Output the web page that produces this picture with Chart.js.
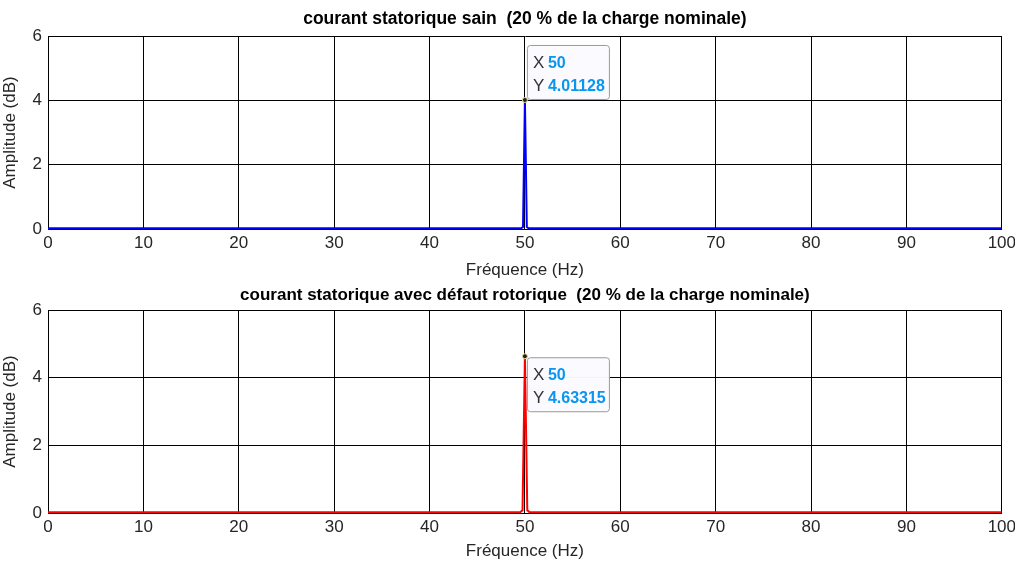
<!DOCTYPE html>
<html>
<head>
<meta charset="utf-8">
<script src="https://cdn.jsdelivr.net/npm/chart.js@4/dist/chart.umd.min.js"></script>
<style>
  html, body { margin: 0; background: #fff; overflow: hidden; }
  .box { position: absolute; left: 0; width: 1020px; height: 281px; }
</style>
</head>
<body>
<div class="box" style="top:0"><canvas id="chartSain"></canvas></div>
<div class="box" style="top:281px"><canvas id="chartDefaut"></canvas></div>
<script>
// spectre du courant statorique
var freqSain = [0, 49.6, 49.8, 50, 50.2, 50.4, 100];
var ampSain = [0.02, 0.02, 0.06, 4.01128, 0.06, 0.02, 0.02];
var freqDefaut = [0, 49.5, 49.75, 50, 50.25, 50.5, 100];
var ampDefaut = [0.02, 0.02, 0.08, 4.63315, 0.08, 0.02, 0.02];
var yTicks = [0, 2, 4, 6];

var font = 'Liberation Sans, Arial, sans-serif';

// info-bulle façon MATLAB (data tip)
var dataTip = {
	id: 'dataTip',
	afterDatasetsDraw: function (chart, args, opts) {
		var c = chart.ctx;
		var pt = chart.getDatasetMeta(0).data[opts.index];
		var x = pt.x, y = pt.y;
		var bx = x + 2, by = opts.below ? y + 1 : y - 55, bw = 82, bh = 54;
		c.save();
		c.fillStyle = 'rgba(250,250,255,0.97)';
		c.strokeStyle = '#9a9a9a';
		c.lineWidth = 1;
		c.beginPath();
		c.roundRect(bx + 0.5, by + 0.5, bw, bh, 3);
		c.fill();
		c.stroke();
		c.textBaseline = 'alphabetic';
		c.font = '17px ' + font;
		c.fillStyle = '#333';
		c.fillText('X', bx + 6, by + 23);
		c.fillText('Y', bx + 6, by + 46);
		c.font = 'bold 16px ' + font;
		c.fillStyle = '#0a96f0';
		c.fillText(opts.xText, bx + 21, by + 23);
		c.fillText(opts.yText, bx + 21, by + 46);
		c.beginPath();
		c.arc(x, y, 2.5, 0, Math.PI * 2);
		c.fillStyle = '#222';
		c.fill();
		c.strokeStyle = '#e6dc96';
		c.lineWidth = 1;
		c.stroke();
		c.restore();
	}
};

function makeChart(id, freq, amp, color, title, tip, titleSize, titlePad, xHeight) {
	var pts = freq.map(function (f, i) { return { x: f, y: amp[i] }; });
	return new Chart(document.getElementById(id), {
		type: 'line',
		data: {
			datasets: [{
				data: pts,
				borderColor: color,
				borderWidth: 2,
				pointRadius: 0,
				tension: 0,
			}],
		},
		plugins: [dataTip],
		options: {
			responsive: true,
			maintainAspectRatio: false,
			animation: false,
			layout: { padding: { left: 0, right: 0, top: 0, bottom: 0 } },
			plugins: {
				legend: { display: false },
				tooltip: { enabled: false },
				title: {
					display: true,
					text: title,
					color: '#000',
					fullSize: false,
					font: { family: font, size: titleSize, weight: 'bold', lineHeight: 1.2 },
					padding: titlePad,
				},
				dataTip: tip,
			},
			scales: {
				x: {
					type: 'linear',
					min: 0,
					max: 100,
					ticks: { stepSize: 10, color: '#262626', padding: 4, maxRotation: 0, font: { family: font, size: 17 } },
					grid: { color: '#000', lineWidth: 1, drawTicks: false },
					border: { color: '#000' },
					title: { display: true, text: 'Fréquence (Hz)', color: '#262626', padding: 0, font: { family: font, size: 17 } },
					afterFit: function (s) { s.height = xHeight; },
				},
				y: {
					min: 0,
					max: 6,
					afterBuildTicks: function (s) { s.ticks = yTicks.map(function (v) { return { value: v }; }); },
					ticks: { color: '#262626', padding: 6, font: { family: font, size: 17 } },
					grid: { color: '#000', lineWidth: 1, drawTicks: false },
					border: { color: '#000' },
					title: { display: true, text: 'Amplitude (dB)', color: '#262626', padding: 0, font: { family: font, size: 17 } },
					afterFit: function (s) { s.width = 48; },
				},
			},
		},
	});
}

makeChart('chartSain', freqSain, ampSain, '#0000ff',
	'courant statorique sain  (20 % de la charge nominale)',
	{ index: 3, xText: '50', yText: '4.01128', below: false },
	17.5, { top: 9, bottom: 6 }, 52);

makeChart('chartDefaut', freqDefaut, ampDefaut, '#ff0000',
	'courant statorique avec défaut rotorique  (20 % de la charge nominale)',
	{ index: 3, xText: '50', yText: '4.63315', below: true },
	17, { top: 4.5, bottom: 4.1 }, 49);
</script>
</body>
</html>
